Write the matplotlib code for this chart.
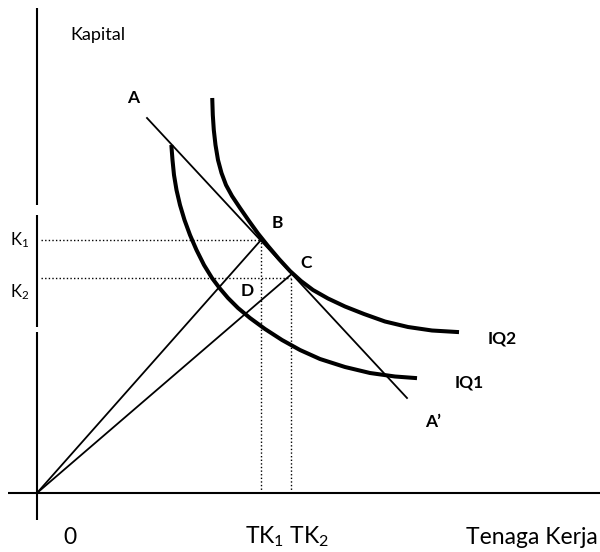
import matplotlib
matplotlib.use("Agg")
import matplotlib.pyplot as plt
import numpy as np

plt.rcParams['font.family'] = ['Lato', 'DejaVu Sans']
plt.rcParams['mathtext.fontset'] = 'custom'
plt.rcParams['mathtext.rm'] = 'Lato'
plt.rcParams['mathtext.it'] = 'Lato:italic'
plt.rcParams['mathtext.bf'] = 'Lato:bold'

# isoquant curves (origin = 0 on both axes)
iq1_x = [134.5, 135.5, 137, 139.5, 143, 147.5, 153, 159.5, 167, 175, 182.5, 191, 201,
         213, 228, 245, 263, 283, 308, 333, 358, 378]
iq1_y = [346, 333, 318, 303, 288, 273, 258, 243, 228, 215, 205, 195, 185,
         175, 164, 153, 143, 134, 126, 120, 116.5, 115]
iq2_x = [175.3, 175.8, 176.8, 178.5, 181, 184.5, 189, 195, 203, 212, 221, 231, 242,
         253, 264, 276, 291, 308, 327, 348, 371, 395, 420]
iq2_y = [393, 378, 363, 348, 333, 320, 308, 297, 285, 272, 259.5, 247, 234,
         222, 212, 203, 194.5, 186.5, 179, 171.5, 166, 162.5, 161]

# isocost line A - A'
line_x = [110, 370]
line_y = [375, 95]

# points B and C (end of the rays from the origin)
ray_x = [224, 253.5]
ray_y = [253, 218]

# guide levels
k_levels = [253, 215]
tk_levels = [224, 253.5]

fig = plt.figure(figsize=(6, 5.52), dpi=100)
ax = fig.add_axes([0, 0, 1, 1])
ax.set_xlim(-37, 563)
ax.set_ylim(-59, 493)
ax.axis('off')

# axes
ax.plot([-29, 563], [0, 0], color='black', lw=1.5, solid_capstyle='butt')
for y0, y1 in [(-27, 161), (166, 278), (288, 485)]:
    ax.plot([0, 0], [y0, y1], color='black', lw=1.5, solid_capstyle='butt')

# dotted guides
dots = (0, (1, 1.6))
for k, tk in zip(k_levels, tk_levels):
    ax.plot([4, tk], [k, k], color='black', lw=1, linestyle=dots)
    ax.plot([tk, tk], [0, k], color='black', lw=1, linestyle=dots)

# rays from the origin
for rx, ry in zip(ray_x, ray_y):
    ax.plot([0, rx], [0, ry], color='black', lw=1.3)

# isocost line
ax.plot(line_x, line_y, color='black', lw=1.3)

# isoquants
ax.plot(iq1_x, iq1_y, color='black', lw=2.9, solid_joinstyle='round')
ax.plot(iq2_x, iq2_y, color='black', lw=2.9, solid_joinstyle='round')

# labels
ax.text(33, 458, 'Kapital', fontsize=13, ha='left', va='center')
bold = dict(fontsize=12.5, fontweight='bold', ha='center', va='center')
ax.text(96, 395, 'A', **bold)
ax.text(240, 270, 'B', **bold)
ax.text(269, 230, 'C', **bold)
ax.text(210, 202, 'D', **bold)
ax.text(465, 154, 'IQ2', **bold)
ax.text(432, 110, 'IQ1', **bold)
ax.text(396, 71, 'A\u2019', **bold)
ax.text(-17, 253, 'K$_1$', fontsize=12, ha='center', va='center')
ax.text(-17, 201, 'K$_2$', fontsize=12, ha='center', va='center')

ax.text(33, -44, '0', fontsize=16.5, ha='center', va='center')
ax.text(250, -44, 'TK$_1$ TK$_2$', fontsize=16.5, ha='center', va='center')
ax.text(494.5, -44, 'Tenaga Kerja', fontsize=16.5, ha='center', va='center')

fig.savefig('out.png', dpi=100)
